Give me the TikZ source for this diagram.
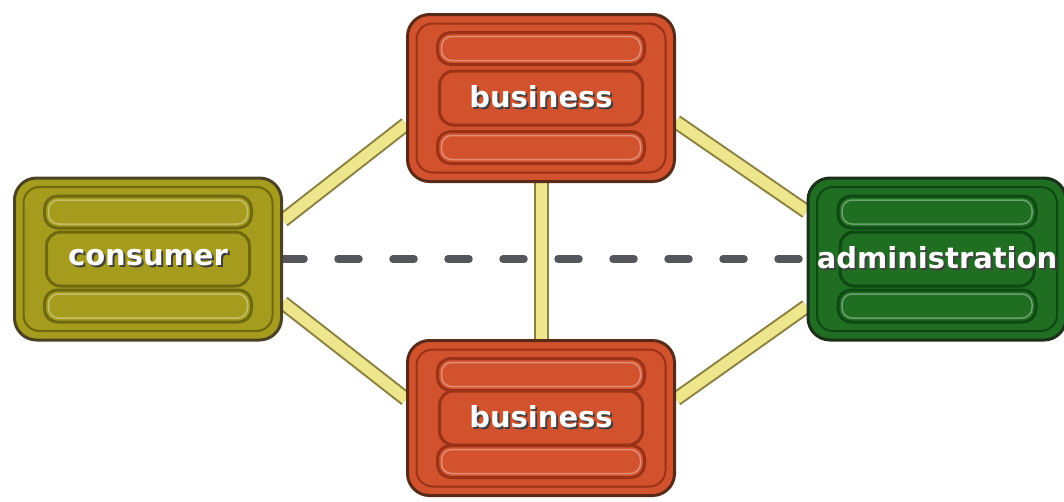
\documentclass[tikz,border=0pt]{standalone}
\usepackage{fontspec}
\newfontfamily\lblfont{DejaVu Sans}
\usetikzlibrary{backgrounds}
\definecolor{bizfill}{HTML}{D2522E}
\definecolor{bizdark}{HTML}{9A3218}
\definecolor{bizedge}{HTML}{5A2A18}
\definecolor{consfill}{HTML}{A59C1E}
\definecolor{consdark}{HTML}{6E6810}
\definecolor{consedge}{HTML}{4A4222}
\definecolor{admfill}{HTML}{1F6E22}
\definecolor{admdark}{HTML}{0E4812}
\definecolor{admedge}{HTML}{1A301A}
\definecolor{connfill}{HTML}{EEE68C}
\definecolor{connedge}{HTML}{8A8040}
\definecolor{dashcol}{HTML}{55555C}
\newcommand\shtext[1]{\rlap{\kern2pt\raisebox{-2pt}{\textcolor{black!75}{#1}}}\textcolor{white}{#1}}
\newcommand\boxstripes[2]{%
  \draw[draw=#1,line width=2pt,rounded corners=16pt]
    ([shift={(9,9)}]path picture bounding box.north west) rectangle ([shift={(-9,-9)}]path picture bounding box.south east);
  \draw[draw=#1,line width=3pt,rounded corners=13pt]
    ([shift={(30,18)}]path picture bounding box.north west) rectangle ([shift={(-30,50)}]path picture bounding box.north east);
  \draw[draw=#2,line width=1.5pt,rounded corners=10pt]
    ([shift={(34,22)}]path picture bounding box.north west) rectangle ([shift={(-34,46)}]path picture bounding box.north east);
  \draw[draw=#1,line width=3pt,rounded corners=14pt]
    ([shift={(32,-27)}]path picture bounding box.west) rectangle ([shift={(-32,27)}]path picture bounding box.east);
  \draw[draw=#1,line width=3pt,rounded corners=13pt]
    ([shift={(30,-50)}]path picture bounding box.south west) rectangle ([shift={(-30,-18)}]path picture bounding box.south east);
  \draw[draw=#2,line width=1.5pt,rounded corners=10pt]
    ([shift={(34,-46)}]path picture bounding box.south west) rectangle ([shift={(-34,-22)}]path picture bounding box.south east);
}
\begin{document}
\begin{tikzpicture}[x=1pt,y=-1pt,
  box/.style n args={3}{rectangle, rounded corners=22pt, line width=3pt,
    fill=#1, draw=#3, inner sep=0pt, minimum width=267pt,
    font=\lblfont\bfseries\fontsize{29}{30}\selectfont,
    path picture={\boxstripes{#2}{#1!65!white}}},
  conn/.style={draw=connedge, line width=2pt, double=connfill, double distance=11pt},
  dashline/.style={draw=dashcol, line width=7.5pt, line cap=round, dash pattern=on 21pt off 34pt}]
\useasboundingbox (0,0) rectangle (1064,501);
\node[box={bizfill}{bizdark}{bizedge}, minimum height=167pt] (b1) at (541,98) {\shtext{business}};
\node[box={bizfill}{bizdark}{bizedge}, minimum height=155pt] (b2) at (541,418) {\shtext{business}};
\node[box={consfill}{consdark}{consedge}, minimum height=162pt] (cons) at (148,259) {\shtext{consumer}};
\node[box={admfill}{admdark}{admedge}, minimum width=258pt, minimum height=162pt] (adm) at (937,259) {\shtext{administration}};
\begin{pgfonlayer}{background}
  \fill[white] (0,0) rectangle (1064,501);
  \draw[dashline] (cons.east) -- (adm.west);
  \draw[conn] (cons.16) -- (b1.191);
  \draw[conn] (cons.-18) -- (b2.172);
  \draw[conn] (b1.350) -- (adm.160);
  \draw[conn] (b2.8) -- (adm.200);
  \draw[conn] (b1.south) -- (b2.north);
\end{pgfonlayer}
\end{tikzpicture}
\end{document}
